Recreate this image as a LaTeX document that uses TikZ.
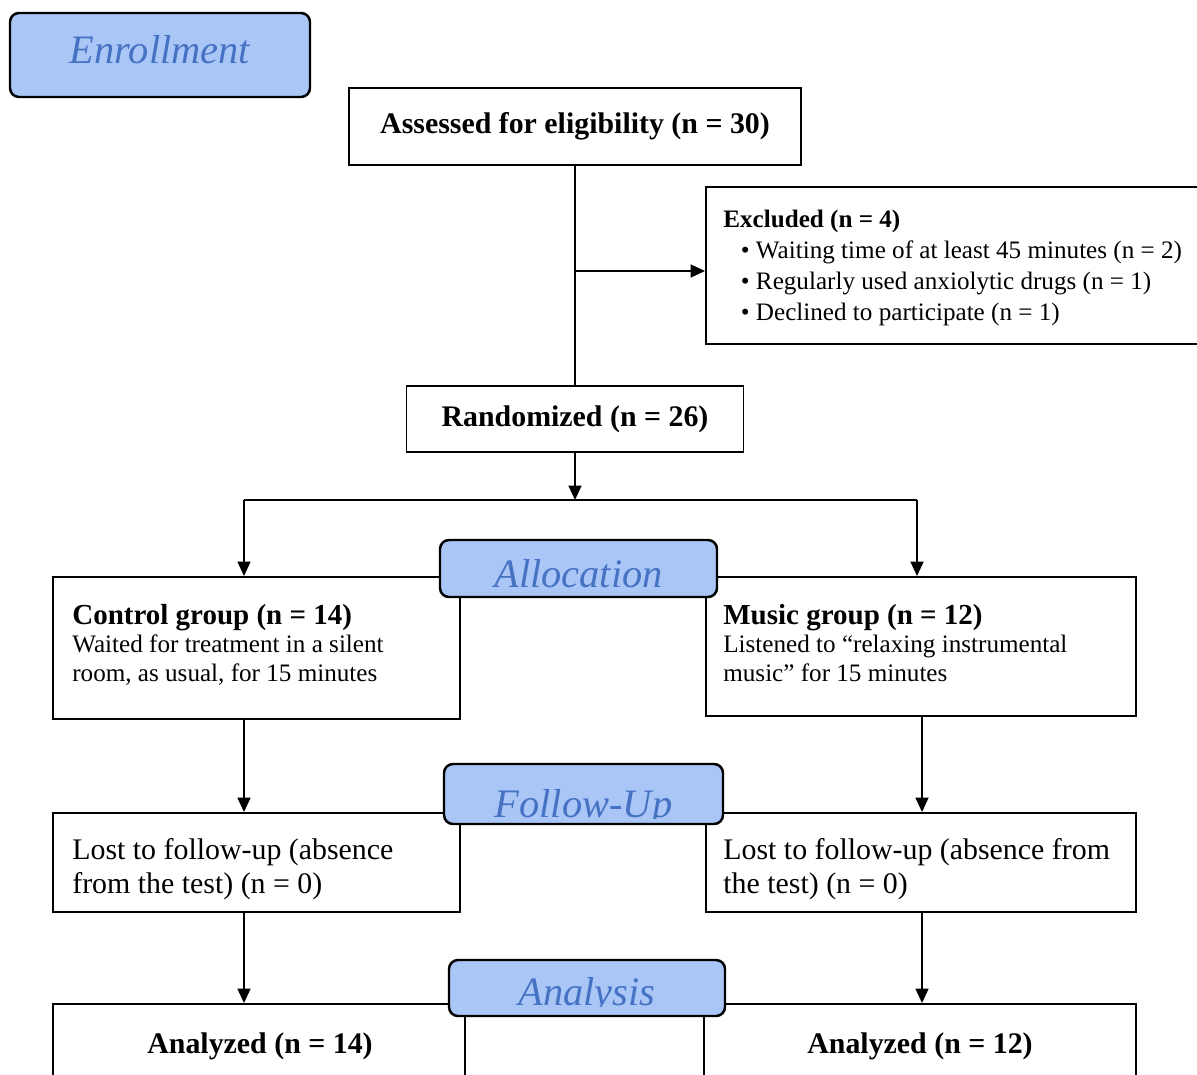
\documentclass[tikz,border=0pt]{standalone}
\usepackage{fontspec}
\setmainfont{Liberation Serif}
\usetikzlibrary{arrows.meta}
\definecolor{phasefill}{RGB}{170,198,247}
\definecolor{phaseblue}{RGB}{70,114,196}
\tikzset{
  box/.style={draw, line width=1.1pt, inner sep=0pt},
  phase/.style={draw, line width=1.4pt, fill=phasefill, rounded corners=1.8mm, inner sep=0pt},
  phaselabel/.style={text=phaseblue, font=\fontsize{23}{27}\selectfont\itshape, inner sep=0pt, anchor=base},
  title/.style={font=\fontsize{17}{20}\selectfont\bfseries},
  bodytext/.style={anchor=north west, align=left, inner sep=0pt},
  conn/.style={line width=1pt},
  >={Triangle[length=2.9mm,width=2.6mm]}
}
\begin{document}
\begin{tikzpicture}[x=0.2mm, y=-0.2mm]
\useasboundingbox (0,0) rectangle (1197,1074);
\clip (0,0) rectangle (1197,1074);
% boxes
\node [box, title, minimum width=90.4mm, minimum height=15.4mm] (assess) at (575,126.5) {Assessed for eligibility (n = 30)};
\node [box, minimum width=102.8mm, minimum height=31.4mm] (excl) at (963,265.5) {};
\node [bodytext, font=\fontsize{14.3}{17.5}\selectfont] (excltext) at (723,210)
  {\textbf{Excluded (n = 4)}\\
   \hspace*{10pt}\textbullet\ Waiting time of at least 45 minutes (n = 2)\\
   \hspace*{10pt}\textbullet\ Regularly used anxiolytic drugs (n = 1)\\
   \hspace*{10pt}\textbullet\ Declined to participate (n = 1)};
\node [box, title, minimum width=67.4mm, minimum height=13.2mm] (rand) at (575,419) {Randomized (n = 26)};
\node [box, minimum width=81.4mm, minimum height=28.4mm] (ctrl) at (256.5,648) {};
\node [bodytext, font=\fontsize{14.3}{16.2}\selectfont] (ctrltext) at (72,604)
  {{\fontsize{16.5}{19}\selectfont\bfseries Control group (n = 14)}\\
   Waited for treatment in a silent\\
   room, as usual, for 15 minutes};
\node [box, minimum width=86mm, minimum height=27.8mm] (music) at (921,646.5) {};
\node [bodytext, font=\fontsize{14.3}{16.2}\selectfont] (musictext) at (723,604)
  {{\fontsize{16.5}{19}\selectfont\bfseries Music group (n = 12)}\\
   Listened to ``relaxing instrumental\\
   music'' for 15 minutes};
\node [box, minimum width=81.4mm, minimum height=19.8mm] (lostc) at (256.5,862.5) {};
\node [bodytext, font=\fontsize{17}{19.3}\selectfont] (lostctext) at (72,838)
  {Lost to follow-up (absence\\ from the test) (n = 0)};
\node [box, minimum width=86mm, minimum height=19.8mm] (lostm) at (921,862.5) {};
\node [bodytext, font=\fontsize{17}{19.3}\selectfont] (lostmtext) at (723,838)
  {Lost to follow-up (absence from\\ the test) (n = 0)};
\node [box, minimum width=82.4mm, minimum height=28mm] (anac) at (259,1074) {};
\node [title, anchor=base, inner sep=0pt] (anactext) at (260,1053) {Analyzed (n = 14)};
\node [box, minimum width=86.4mm, minimum height=28mm] (anam) at (920,1074) {};
\node [title, anchor=base, inner sep=0pt] (anamtext) at (920,1053) {Analyzed (n = 12)};
% connectors
\coordinate (branch) at (575,271);
\coordinate (split) at (575,500);
\coordinate (colL) at (244,500);
\coordinate (colR) at (917,500);
\coordinate (colRb) at (922,500);
\draw [conn] (assess.south) -- (rand.north);
\draw [conn, ->] (branch) -- (branch -| excl.west);
\draw [conn, ->] (rand.south) -- (split);
\draw [conn] (colL) -- (colR);
\draw [conn, ->] (colL) -- (colL |- ctrl.north);
\draw [conn, ->] (colR) -- (colR |- music.north);
\draw [conn, ->] (colL |- ctrl.south) -- (colL |- lostc.north);
\draw [conn, ->] (colRb |- music.south) -- (colRb |- lostm.north);
\draw [conn, ->] (colL |- lostc.south) -- (colL |- anac.north);
\draw [conn, ->] (colRb |- lostm.south) -- (colRb |- anam.north);
% phase labels
\node [phase, minimum width=60mm, minimum height=16.8mm] (enroll) at (160,55) {};
\node [phaselabel] (enrolltext) at (160,64) {Enrollment};
\node [phase, minimum width=55.4mm, minimum height=11.4mm] (alloc) at (578.5,568.5) {};
\node [phaselabel] (alloctext) at (578.5,587) {Allocation};
\node [phase, minimum width=55.8mm, minimum height=12mm] (fu) at (583.5,794) {};
\begin{scope}
  \clip (444,764) rectangle (723,818);
  \node [phaselabel] (futext) at (583.5,817) {Follow-Up};
\end{scope}
\node [phase, minimum width=55.2mm, minimum height=11.2mm] (ana) at (587,988) {};
\begin{scope}
  \clip (449,960) rectangle (725,1006);
  \node [phaselabel] (anatext) at (587,1005) {Analysis};
\end{scope}
\end{tikzpicture}
\end{document}
